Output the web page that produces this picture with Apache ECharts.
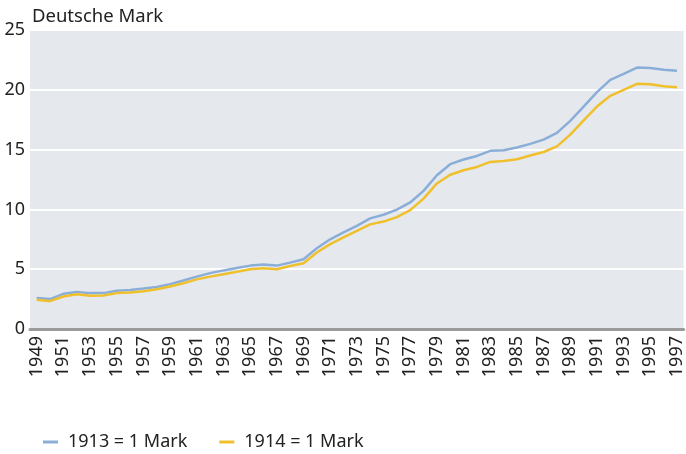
<!DOCTYPE html>
<html>
<head>
<meta charset="utf-8">
<script src="https://cdn.jsdelivr.net/npm/echarts@6/dist/echarts.min.js"></script>
<style>
  html, body { margin: 0; padding: 0; background: #fff; }
  #chart { width: 686px; height: 454px; }
</style>
</head>
<body>
<div id="chart"></div>
<script>
// Jahre 1949 - 1997
const years = []
for (let y = 1949; y <= 1997; y++) years.push(String(y))

// Kaufkraft in DM, 1913 = 1 Mark
const mark1913 = [
  2.6, 2.5, 2.94, 3.1, 3.0, 3.0, 3.2, 3.27, 3.38, 3.52,
  3.75, 4.05, 4.38, 4.67, 4.9, 5.1, 5.3, 5.4, 5.3, 5.55,
  5.83, 6.75, 7.5, 8.08, 8.62, 9.25, 9.55, 9.98, 10.58, 11.55,
  12.86, 13.78, 14.17, 14.47, 14.9, 14.94, 15.17, 15.48, 15.83, 16.4,
  17.4, 18.6, 19.8, 20.83, 21.33, 21.86, 21.83, 21.67, 21.6
]
// 1914 = 1 Mark
const mark1914 = [
  2.44, 2.33, 2.72, 2.9, 2.78, 2.8, 3.0, 3.05, 3.15, 3.33,
  3.55, 3.83, 4.15, 4.38, 4.58, 4.78, 5.0, 5.08, 5.0, 5.27,
  5.5, 6.4, 7.1, 7.67, 8.2, 8.75, 8.98, 9.35, 9.94, 10.9,
  12.17, 12.9, 13.27, 13.55, 13.97, 14.05, 14.2, 14.5, 14.8, 15.27,
  16.25, 17.45, 18.6, 19.5, 20.0, 20.5, 20.47, 20.3, 20.22
]

const font = 'Noto Sans'
let myChart = echarts.init(document.getElementById('chart'))
myChart.setOption({
  animation: false,
  textStyle: { fontFamily: font },
  title: {
    text: 'Deutsche Mark',
    left: 27,
    top: 2,
    textStyle: { fontFamily: font, fontSize: 18.5, fontWeight: 'normal', color: '#222' }
  },
  legend: {
    left: 38,
    top: 428,
    itemGap: 32,
    itemWidth: 15,
    itemHeight: 3,
    icon: 'rect',
    textStyle: { fontFamily: font, fontSize: 18, color: '#222', padding: [0, 0, 0, 5] },
    data: ['1913 = 1 Mark', '1914 = 1 Mark']
  },
  grid: {
    left: 30,
    right: 2,
    top: 30,
    bottom: 125,
    show: true,
    backgroundColor: '#e5e9ee',
    borderWidth: 0
  },
  xAxis: {
    type: 'category',
    data: years,
    boundaryGap: true,
    axisLine: { lineStyle: { color: '#9a9a9a', width: 3 } },
    axisTick: { show: false },
    axisLabel: {
      interval: 1,
      rotate: 90,
      margin: 7,
      fontSize: 18,
      color: '#222',
      fontFamily: font
    }
  },
  yAxis: {
    type: 'value',
    min: 0,
    max: 25,
    interval: 5,
    axisLine: { show: false },
    axisTick: { show: false },
    splitLine: { lineStyle: { color: '#ffffff', width: 2 } },
    axisLabel: { fontSize: 18, color: '#222', margin: 5, fontFamily: font }
  },
  series: [{
    name: '1913 = 1 Mark',
    type: 'line',
    symbol: 'none',
    lineStyle: { color: '#8aaed8', width: 2.5 },
    itemStyle: { color: '#8aaed8' },
    data: mark1913
  }, {
    name: '1914 = 1 Mark',
    type: 'line',
    symbol: 'none',
    lineStyle: { color: '#f0c02c', width: 2.5 },
    itemStyle: { color: '#f0c02c' },
    data: mark1914
  }]
})
</script>
</body>
</html>
